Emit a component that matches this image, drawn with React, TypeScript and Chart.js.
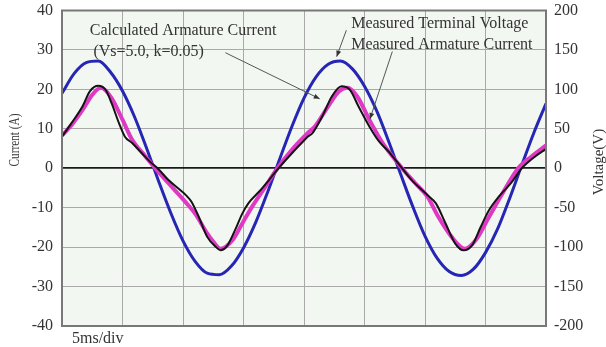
import React, { useEffect, useRef } from "react";
import { Chart, registerables } from "chart.js";

Chart.register(...registerables);

// time axis (ms), 5 ms per division
const timeTicksMin = 0;
const timeTicksMax = 40;

// Measured terminal voltage (V), right axis
const voltTime = [0,1,2,3,4,5,6,7,8,9,10,11,12,13,14,15,16,17,18,19,20,21,22,23,24,25,26,27,28,29,30,31,32,33,34,35,36,37,38,39,40];
const voltage = [95,120,134,136,122,98,65,25,-17,-57,-92,-118,-133,-135,-124,-101,-69,-30,12,53,89,116,132,136,126,104,73,34,-8,-49,-86,-114,-131,-136,-128,-107,-77,-38,4,45,82];

// Calculated armature current (A), left axis
const calcTime = [0,0.8,1.7,2.5,3.2,4.1,5.0,5.8,6.9,7.7,8.8,10.3,11.0,12.0,12.5,13.1,14.1,14.9,15.7,16.8,17.8,19.0,20.3,20.9,22.0,22.9,23.6,24.4,25.4,26.5,28.1,29.2,30.2,31.1,32.2,33.3,34.2,35.3,36.4,37.7,38.8,40.0];
const calcCurrent = [8.3,11.0,14.8,18.6,20.4,17.8,12.3,7.2,3.0,0,-3.8,-8.9,-11.5,-16.5,-18.6,-20.4,-18.2,-14.0,-9.8,-4.7,0,4.7,8.9,10.6,15.7,19.5,20.4,18.2,12.3,6.4,0,-3.8,-7.2,-12.3,-17.4,-20.4,-18.2,-12.3,-6.4,0,3.0,5.8];

// Measured armature current (A), left axis
const measTime = [0,0.8,1.7,2.3,3.0,3.6,4.1,4.7,5.2,5.8,6.6,7.4,7.9,8.8,10.3,10.7,11.3,12.0,12.7,13.1,13.6,14.3,14.9,15.4,16.3,17.1,17.9,19.0,19.8,20.3,20.7,21.5,22.3,23.1,23.8,24.5,25.4,26.2,27.0,28.0,28.9,30.2,30.9,31.7,32.5,33.2,33.9,34.6,35.3,36.1,37.1,38.0,39.1,40.0];
const measCurrent = [8.0,11.5,15.7,19.5,20.9,19.9,16.5,11.5,8.0,6.4,3.8,1.3,0,-3.0,-7.0,-8.5,-12.3,-17.4,-19.9,-20.8,-19.9,-15.7,-11.5,-8.9,-5.9,-3.0,0,3.8,6.4,8.0,8.9,13.1,18.2,20.8,19.9,15.7,10.6,6.8,4.2,0.4,-3.0,-6.8,-8.9,-14.0,-19.1,-20.8,-19.5,-14.9,-10.6,-7.2,-3.8,0,3.0,4.9];

const currentTitle = "Current (A)";
const voltageTitle = "Voltage(V)";
const xNote = "5ms/div";

const SERIF = "'Liberation Serif', 'Times New Roman', serif";
const TEXT = "#333333";

const zip = (xs: number[], ys: number[]) => xs.map((x, i) => ({ x, y: ys[i] }));

const decorPlugin = {
  id: "decor",
  beforeDraw(chart: any) {
    const { ctx, chartArea: a } = chart;
    ctx.save();
    ctx.fillStyle = "#ffffff";
    ctx.fillRect(0, 0, chart.width, chart.height);
    ctx.fillStyle = "#f3f7f2";
    ctx.fillRect(a.left, a.top, a.right - a.left, a.bottom - a.top);
    ctx.restore();
  },
  afterDraw(chart: any) {
    const { ctx, chartArea: a, scales } = chart;
    const sx = scales.x, sy = scales.y;
    ctx.save();
    // plot border
    ctx.strokeStyle = "#787878";
    ctx.lineWidth = 2;
    ctx.strokeRect(a.left, a.top, a.right - a.left, a.bottom - a.top);

    // axis titles (both read bottom-to-top)
    ctx.fillStyle = TEXT;
    ctx.textAlign = "center";
    ctx.textBaseline = "middle";
    ctx.font = `15px ${SERIF}`;
    ctx.save();
    ctx.translate(15, 140);
    ctx.rotate(-Math.PI / 2);
    ctx.scale(0.75, 1);
    ctx.fillText(currentTitle, 0, 0);
    ctx.restore();
    ctx.save();
    ctx.translate(599, 162);
    ctx.rotate(-Math.PI / 2);
    ctx.font = `15px ${SERIF}`;
    ctx.fillText(voltageTitle, 0, 0);
    ctx.restore();

    // x note
    ctx.font = `16px ${SERIF}`;
    ctx.textAlign = "left";
    ctx.fillText(xNote, 72, 339);

    // annotations
    const px = (t: number) => sx.getPixelForValue(t);
    const py = (v: number) => sy.getPixelForValue(v);
    ctx.font = `16px ${SERIF}`;
    ctx.fillText("Calculated Armature Current", px(2.3), py(34.8));
    ctx.fillText("(Vs=5.0, k=0.05)", px(2.6), py(29.6));
    ctx.fillText("Measured Terminal Voltage", px(23.9), py(36.6));
    ctx.fillText("Measured Armature Current", px(23.9), py(31.4));

    const arrow = (x1: number, y1: number, x2: number, y2: number) => {
      ctx.strokeStyle = "#555";
      ctx.fillStyle = "#333";
      ctx.lineWidth = 1;
      ctx.beginPath();
      ctx.moveTo(x1, y1);
      ctx.lineTo(x2, y2);
      ctx.stroke();
      const ang = Math.atan2(y2 - y1, x2 - x1);
      const L = 6, W = 2.5;
      ctx.beginPath();
      ctx.moveTo(x2, y2);
      ctx.lineTo(x2 - L * Math.cos(ang) + W * Math.sin(ang), y2 - L * Math.sin(ang) - W * Math.cos(ang));
      ctx.lineTo(x2 - L * Math.cos(ang) - W * Math.sin(ang), y2 - L * Math.sin(ang) + W * Math.cos(ang));
      ctx.closePath();
      ctx.fill();
    };
    arrow(px(13.5), py(29.3), px(21.3), py(17.6));
    arrow(px(23.5), py(35.0), px(22.7), py(28.3));
    arrow(px(27.3), py(29.6), px(25.45), py(12.5));
    ctx.restore();
  },
};

const noVertPad = (s: any, w: number) => {
  s.width = w;
  s.paddingTop = 0;
  s.paddingBottom = 0;
};

export default function App() {
  const ref = useRef<HTMLCanvasElement | null>(null);
  useEffect(() => {
    document.body.style.margin = "0";
    const canvas = ref.current!;
    const chart = new Chart(canvas, {
      type: "line",
      data: {
        datasets: [
          {
            label: "Measured Armature Current",
            data: zip(measTime, measCurrent),
            borderColor: "#141414",
            borderWidth: 2,
            pointRadius: 0,
            cubicInterpolationMode: "monotone",
            yAxisID: "y",
          },
          {
            label: "Calculated Armature Current",
            data: zip(calcTime, calcCurrent),
            borderColor: "#de38c4",
            borderWidth: 4,
            pointRadius: 0,
            cubicInterpolationMode: "monotone",
            yAxisID: "y",
          },
          {
            label: "Measured Terminal Voltage",
            data: zip(voltTime, voltage),
            borderColor: "#2626b4",
            borderWidth: 3,
            pointRadius: 0,
            cubicInterpolationMode: "monotone",
            yAxisID: "y2",
          },
        ],
      },
      options: {
        responsive: false,
        animation: false,
        events: [],
        layout: { padding: { top: 10.5, left: 0, right: 0, bottom: 0 } },
        plugins: { legend: { display: false }, tooltip: { enabled: false } },
        scales: {
          x: {
            type: "linear",
            min: timeTicksMin,
            max: timeTicksMax,
            ticks: { display: false, stepSize: 5 },
            grid: { color: "#a9a9a9", lineWidth: 1, drawTicks: false },
            border: { display: false },
            afterFit: (s: any) => { s.height = 21; s.paddingLeft = 0; s.paddingRight = 0; },
          },
          y: {
            position: "left",
            min: -40,
            max: 40,
            ticks: { stepSize: 10, padding: 9, color: TEXT, font: { family: SERIF, size: 16 } },
            grid: {
              drawTicks: false,
              color: (c: any) => (c.tick && c.tick.value === 0 ? "#1a1a1a" : "#a9a9a9"),
              lineWidth: (c: any) => (c.tick && c.tick.value === 0 ? 1.8 : 1),
            },
            border: { display: false },
            afterFit: (s: any) => noVertPad(s, 62),
          },
          y2: {
            position: "right",
            min: -200,
            max: 200,
            ticks: { stepSize: 50, padding: 8, color: TEXT, font: { family: SERIF, size: 16 } },
            grid: { drawOnChartArea: false, drawTicks: false },
            border: { display: false },
            afterFit: (s: any) => noVertPad(s, 60),
          },
        },
      },
      plugins: [decorPlugin],
    });
    return () => chart.destroy();
  }, []);
  return (
    <div style={{ width: 606, height: 347 }}>
      <canvas ref={ref} width={606} height={347} style={{ display: "block" }} />
    </div>
  );
}
